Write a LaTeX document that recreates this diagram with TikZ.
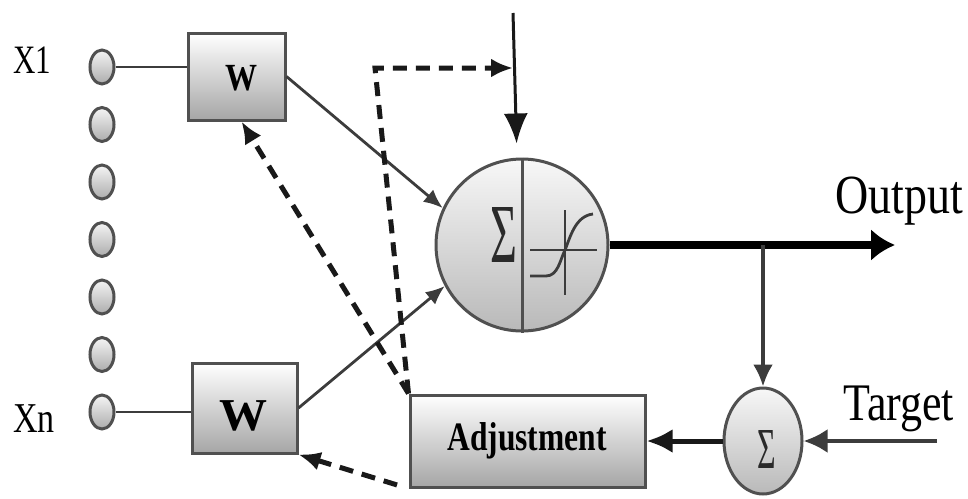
\documentclass[tikz,border=0pt]{standalone}
\usepackage{fontspec}
\usepackage{graphicx}
\setmainfont{Liberation Serif}
\usetikzlibrary{arrows.meta,shapes.geometric,calc}

\definecolor{rim}{HTML}{505050}
\definecolor{wire}{HTML}{3C3C3C}
\definecolor{glyph}{HTML}{2A2A2A}

% vertically stretched label text
\newcommand{\vtext}[2]{\scalebox{1}[#1]{#2}}

\tikzset{
  inball/.style={ellipse, draw=rim, line width=3pt, top color=gray!8, bottom color=gray!65,
    minimum width=24pt, minimum height=34pt, inner sep=0pt},
  wbox/.style={rectangle, draw=rim, line width=3pt, top color=white, bottom color=gray!70,
    inner sep=0pt},
  neuron/.style={circle, draw=rim, line width=3pt, top color=gray!6, bottom color=gray!55,
    minimum size=172pt, inner sep=0pt},
  errnode/.style={ellipse, draw=rim, line width=3pt, top color=gray!6, bottom color=gray!55,
    minimum width=78pt, minimum height=106pt, inner sep=0pt},
  lbl/.style={inner sep=0pt, text=black},
  thinwire/.style={draw=wire, line width=2.8pt, -{Latex[length=19pt,width=16pt]}},
  fb/.style={draw=black!90, line width=5pt, dash pattern=on 14pt off 9pt,
    -{Latex[length=22pt,width=19pt]}},
  biasline/.style={draw=black!90, line width=3pt, -{Latex[length=30pt,width=24pt]}},
  outwire/.style={draw=black, line width=8pt, -{Latex[length=24pt,width=32pt]}},
  branch/.style={draw=wire, line width=3.5pt, -{Latex[length=22pt,width=20pt]}},
  errwire/.style={draw=black!90, line width=5pt, -{Latex[length=26pt,width=24pt]}},
  tgtwire/.style={draw=wire, line width=4pt, -{Latex[length=24pt,width=24pt]}},
}

\begin{document}
\begin{tikzpicture}[x=1pt,y=-1pt]
  \useasboundingbox (0,0) rectangle (968,498);

  % input terminals
  \foreach \i in {1,...,7} {
    \node[inball] (in\i) at (102,{67+57.5*(\i-1)}) {};
  }
  \node[lbl, anchor=base west, font=\fontsize{31}{34}\selectfont] (xone) at (13,73) {\vtext{1.3}{X1}};
  \node[lbl, anchor=base west, font=\fontsize{34}{38}\selectfont] (xenn) at (13,432) {\vtext{1.25}{Xn}};

  % weight blocks
  \node[wbox, minimum width=97pt, minimum height=87pt] (w1) at (236.5,76.5) {};
  \node[lbl, font=\bfseries\fontsize{32}{36}\selectfont] (w1t) at (241,78) {\vtext{1.2}{W}};
  \node[wbox, minimum width=105pt, minimum height=90pt] (w2) at (244.5,408) {};
  \node[lbl, font=\bfseries\fontsize{48}{52}\selectfont] (w2t) at (243,416) {\vtext{0.95}{W}};

  % neuron: summation and activation
  \node[neuron] (n) at (522,245) {};
  \draw[draw=rim, line width=3pt] (n.north) -- (n.south);
  \node[lbl, text=glyph, font=\fontsize{84}{90}\selectfont] (sig) at (503.5,235) {\scalebox{0.55}[1]{Σ}};
  \begin{scope}[shift={(n.center)}, draw=wire, line width=2.8pt]
    \draw (8,5) -- (75,5);
    \draw (43,-35) -- (43,50);
    \draw (8,31) -- (24,31) .. controls (36,31) and (38,15) .. (43,5)
          .. controls (48,-7) and (53,-29) .. (71,-31);
  \end{scope}

  % error node and adjustment block
  \node[errnode] (err) at (763,441) {};
  \node[lbl, text=glyph, font=\fontsize{58}{62}\selectfont] (errs) at (767,450) {\scalebox{0.55}[1]{Σ}};
  \node[wbox, minimum width=235pt, minimum height=92pt] (adj) at (527.5,441) {};
  \node[lbl, font=\bfseries\fontsize{31.5}{35}\selectfont] (adjt) at (527,441) {\vtext{1.28}{Adjustment}};

  % labels
  \node[lbl, anchor=base west, font=\fontsize{46}{50}\selectfont] (outl) at (835,213) {\vtext{1.2}{Output}};
  \node[lbl, anchor=base west, font=\fontsize{44}{48}\selectfont] (tgtl) at (843,420) {\vtext{1.2}{Target}};

  % free ends
  \coordinate (bias) at (513,13);
  \coordinate (outend) at (895,247);
  \coordinate (tgt) at (937,441);
  \coordinate (fbcorner) at (375,68);

  % input wires
  \draw[draw=wire, line width=2.8pt] (in1.east) -- (w1.west |- in1.east);
  \draw[draw=wire, line width=2.8pt] (in7.east) -- (w2.west |- in7.east);

  % weighted inputs into the neuron
  \draw[thinwire] (w1.east) -- (n.155);
  \draw[thinwire] (w2.east) -- (n.208);

  % bias
  \draw[biasline, shorten >=14pt] (bias) -- ($(n.north)+(-5,0)$);

  % output and error path
  \draw[outwire] (n.east) -- (outend |- n.east);
  \draw[branch] (n.east -| err.north) -- (err.north);
  \draw[tgtwire] (tgt) -- (err.east);
  \draw[errwire] (err.west) -- (err.west -| adj.east);

  % feedback (dashed)
  \draw[fb] (adj.north west) -- (fbcorner) -- (fbcorner -| bias);
  \draw[fb] (adj.north west) -- ([xshift=5pt]w1.south);
  \draw[fb, shorten <=12pt] (adj.south west) -- (w2.south east);
\end{tikzpicture}
\end{document}
